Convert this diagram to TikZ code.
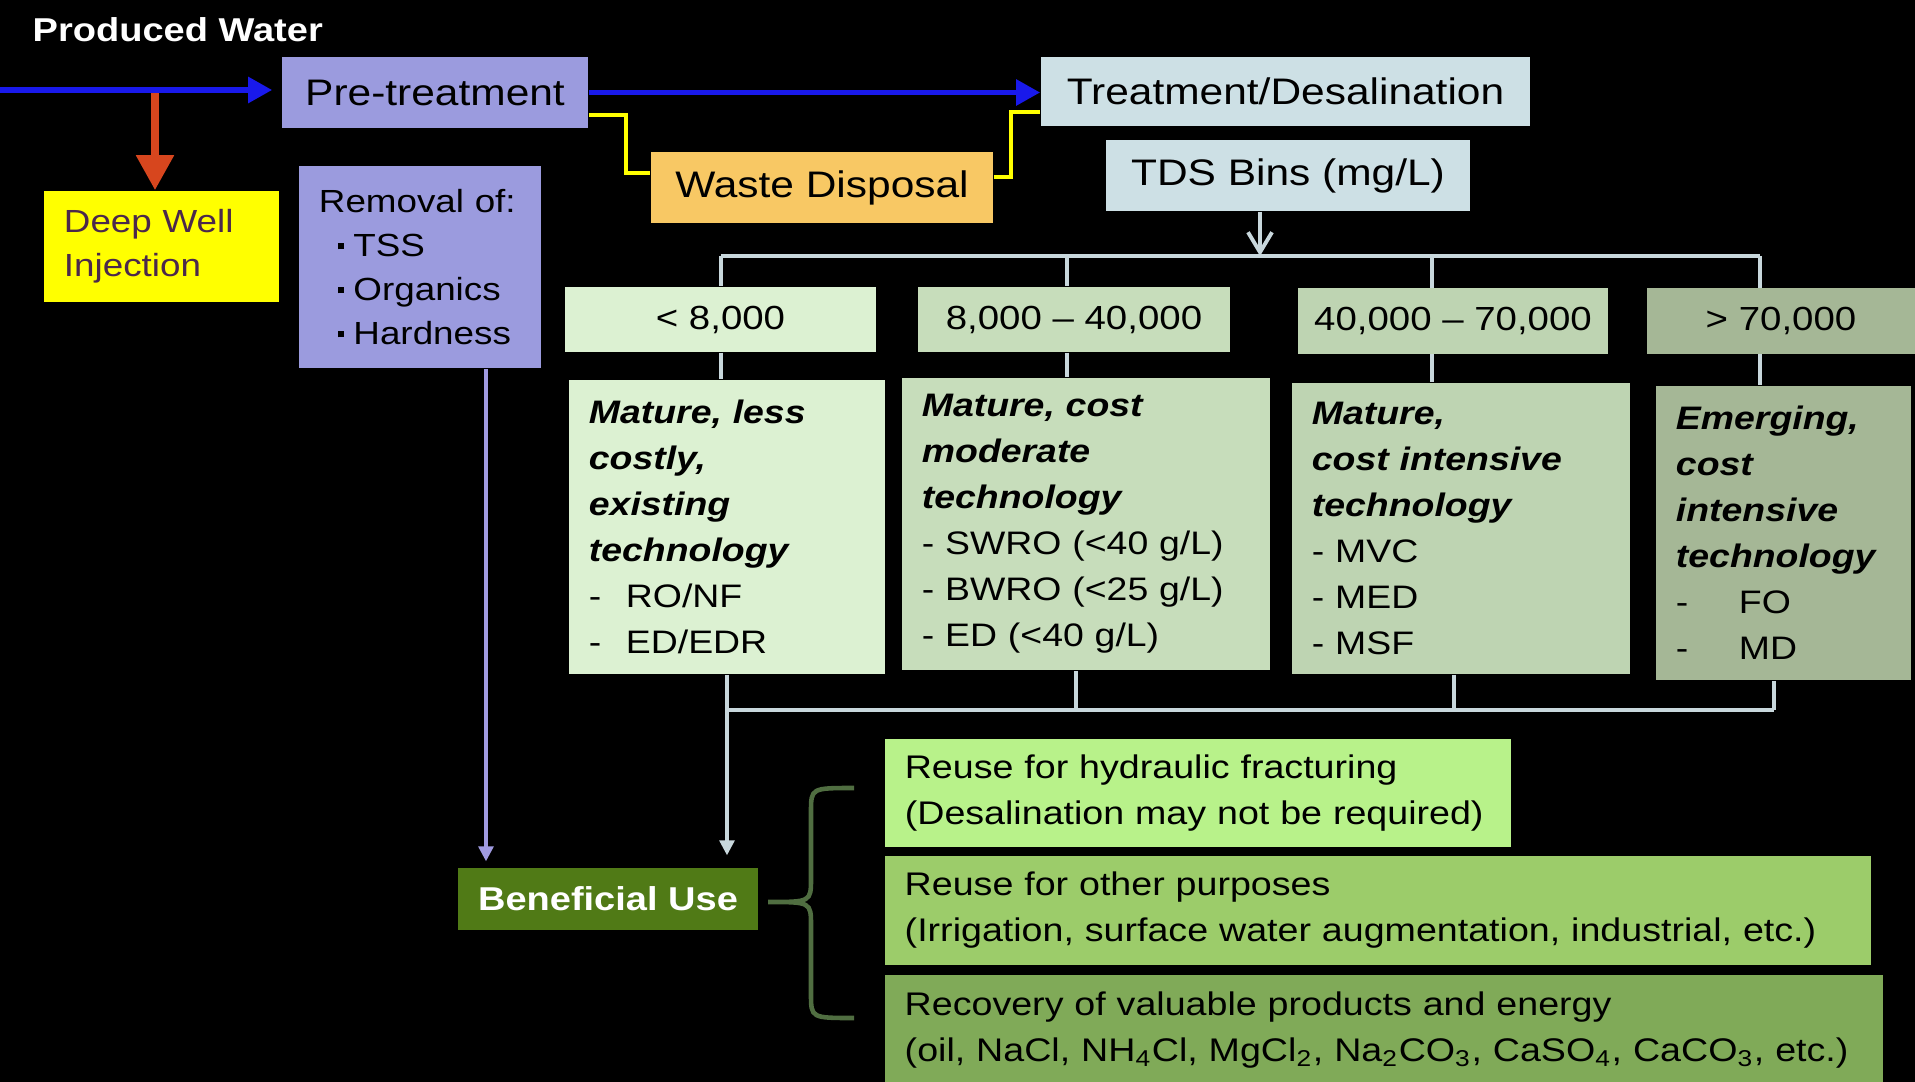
\documentclass[tikz,border=0pt]{standalone}
\usepackage{fontspec}
\setmainfont{Liberation Sans}[FakeStretch=1.15]
\usetikzlibrary{arrows.meta}

\definecolor{lavender}{RGB}{155,155,222}
\definecolor{paleblue}{RGB}{205,224,229}
\definecolor{wastegold}{RGB}{248,200,100}
\definecolor{wellyellow}{RGB}{255,255,0}
\definecolor{welltext}{RGB}{75,40,75}
\definecolor{binA}{RGB}{220,241,210}
\definecolor{binB}{RGB}{199,221,187}
\definecolor{binC}{RGB}{190,212,178}
\definecolor{binD}{RGB}{165,183,150}
\definecolor{useA}{RGB}{184,242,138}
\definecolor{useB}{RGB}{156,204,106}
\definecolor{useC}{RGB}{128,170,88}
\definecolor{benefit}{RGB}{80,122,22}
\definecolor{flowblue}{RGB}{25,25,235}
\definecolor{injectred}{RGB}{215,70,30}
\definecolor{wire}{RGB}{200,215,220}
\definecolor{lavline}{RGB}{160,155,225}
\definecolor{bracegreen}{RGB}{80,110,65}

\newcommand{\remitem}{\hspace{0.19cm}\rule[0.07cm]{0.065cm}{0.065cm}\hspace{0.09cm}}
\newcommand{\techhead}[1]{\textbf{\textit{#1}}}

\begin{document}
\begin{tikzpicture}[x=0.01cm, y=-0.01cm,
	lab/.style={inner sep=0pt, font=\fontsize{10.5}{12.6}\selectfont},
	txt/.style={inner xsep=0.2cm, inner ysep=0pt, align=left},
	bin/.style={inner sep=0pt, minimum height=0.65cm, font=\fontsize{9.5}{11.4}\selectfont},
	tech/.style={txt, font=\fontsize{9.25}{13.1}\selectfont},
	use/.style={txt, font=\fontsize{9.3}{13.1}\selectfont},
	flow/.style={flowblue, line width=1.6pt, -{Triangle[length=0.24cm, width=0.25cm]}},
	inject/.style={injectred, line width=2.3pt, -{Triangle[length=0.35cm, width=0.36cm]}},
	drain/.style={wellyellow, line width=1.2pt},
	link/.style={wire, line width=1.1pt},
	]
	\fill[black] (0,0) rectangle (1915,1082);
	\useasboundingbox (0,0) rectangle (1915,1082);

	\node[anchor=base west, inner sep=0pt, text=white, font=\fontsize{9.4}{11}\selectfont\bfseries] (pw) at (32,42) {Produced Water};

	% top row
	\node[lab, fill=lavender, minimum width=3.06cm, minimum height=0.71cm] (pre) at (435,92.5) {Pre-treatment};
	\node[lab, fill=paleblue, minimum width=4.89cm, minimum height=0.69cm] (treat) at (1285.5,91.5) {Treatment/Desalination};
	\node[lab, fill=wastegold, minimum width=3.42cm, minimum height=0.71cm] (waste) at (822,187.5) {Waste Disposal};
	\node[lab, fill=paleblue, minimum width=3.64cm, minimum height=0.71cm] (tds) at (1288,175.5) {TDS Bins (mg/L)};

	\node[txt, fill=wellyellow, text=welltext, text width=1.95cm, minimum height=1.11cm, font=\fontsize{9.1}{12.5}\selectfont] (well) at (161.5,246.5) {Deep Well\\Injection};
	\node[txt, fill=lavender, text width=2.02cm, minimum height=2.02cm, font=\fontsize{9.1}{12.5}\selectfont] (rem) at (420,267) {Removal of:\\\remitem TSS\\\remitem Organics\\\remitem Hardness};

	\coordinate (in) at (0,90);
	\coordinate (split) at (155,90);
	\draw[inject] (split) -- (split |- well.north);
	\draw[flow, shorten >=0.09cm] (in) -- (in -| pre.west);
	\draw[flow] (pre.east) -- (pre.east -| treat.west);
	\draw[drain] ([yshift=-0.225cm]pre.east) -- ++(37,0) |- ([yshift=0.145cm]waste.west);
	\draw[drain] ([yshift=0.105cm]waste.east) -- ++(17,0) |- ([yshift=-0.205cm]treat.west);

	% TDS bins
	\node[bin, fill=binA, minimum width=3.11cm] (bin1) at (720.5,319.5) {< 8,000};
	\node[bin, fill=binB, minimum width=3.12cm] (bin2) at (1074,319.5) {8,000 -- 40,000};
	\node[bin, fill=binC, minimum width=3.10cm] (bin3) at (1453,321) {40,000 -- 70,000};
	\node[bin, fill=binD, minimum width=2.68cm] (bin4) at (1781,321) {> 70,000};

	\node[tech, fill=binA, text width=2.76cm, minimum height=2.94cm] (tech1) at (727,527)
		{\techhead{Mature, less}\\\techhead{costly,}\\\techhead{existing}\\\techhead{technology}\\\makebox[0.37cm][l]{-}RO/NF\\\makebox[0.37cm][l]{-}ED/EDR};
	\node[tech, fill=binB, text width=3.28cm, minimum height=2.92cm] (tech2) at (1086,524)
		{\techhead{Mature, cost}\\\techhead{moderate}\\\techhead{technology}\\- SWRO (<40 g/L)\\- BWRO (<25 g/L)\\- ED (<40 g/L)};
	\node[tech, fill=binC, text width=2.98cm, minimum height=2.91cm] (tech3) at (1461,528.5)
		{\techhead{Mature,}\\\techhead{cost intensive}\\\techhead{technology}\\- MVC\\- MED\\- MSF};
	\node[tech, fill=binD, text width=2.15cm, minimum height=2.94cm] (tech4) at (1783.5,533)
		{\techhead{Emerging,}\\\techhead{cost}\\\techhead{intensive}\\\techhead{technology}\\\makebox[0.63cm][l]{-}FO\\\makebox[0.63cm][l]{-}MD};

	\coordinate (tap) at (1260,256);
	\draw[link, -{Straight Barb[length=0.2cm, width=0.24cm]}] (tap |- tds.south) -- (tap);
	\foreach \x [count=\i] in {721,1067,1432,1760}
		\coordinate (b\i) at (\x,256);
	\foreach \x [count=\i] in {727,1076,1454,1774}
		\coordinate (c\i) at (\x,710);
	\draw[link] (b1) -- (b4);
	\draw[link] (c1) -- (c4);
	\foreach \i in {1,...,4}{
		\draw[link] (b\i) -- (b\i |- bin\i.north);
		\draw[link] (b\i |- bin\i.south) -- (b\i |- tech\i.north);
		\draw[link] (c\i |- tech\i.south) -- (c\i);
	}

	% beneficial use
	\node[inner sep=0pt, fill=benefit, text=white, minimum width=3.0cm, minimum height=0.62cm, font=\fontsize{9.4}{11}\selectfont\bfseries] (bu) at (608,899) {Beneficial Use};
	\draw[link, line width=0.9pt, -{Triangle[length=0.15cm, width=0.15cm]}, shorten >=0.12cm] (c1) -- (c1 |- bu.north);
	\coordinate (p) at (486,0);
	\draw[lavline, line width=0.9pt, -{Triangle[length=0.15cm, width=0.15cm]}, shorten >=0.06cm] (p |- rem.south) -- (p |- bu.north);

	\node[use, fill=useA, text width=5.86cm, minimum height=1.08cm] (reuse) at (1198,793)
		{Reuse for hydraulic fracturing\\(Desalination may not be required)};
	\node[use, fill=useB, text width=9.46cm, minimum height=1.09cm] (other) at (1378,910.5)
		{Reuse for other purposes\\(Irrigation, surface water augmentation, industrial, etc.)};
	\node[use, fill=useC, text width=9.58cm, minimum height=1.10cm] (recover) at (1384,1030)
		{Recovery of valuable products and energy\\(oil, NaCl, NH\textsubscript{4}Cl, MgCl\textsubscript{2}, Na\textsubscript{2}CO\textsubscript{3}, CaSO\textsubscript{4}, CaCO\textsubscript{3}, etc.)};

	\coordinate (bt) at (854,788);
	\coordinate (bb) at (854,1018);
	\coordinate (bm) at (768,902);
	\draw[bracegreen, line width=1.3pt] (bt) .. controls (811,788) .. (811,812) -- (811,878) .. controls (811,902) .. (bm) .. controls (811,902) .. (811,926) -- (811,994) .. controls (811,1018) .. (bb);
\end{tikzpicture}
\end{document}
